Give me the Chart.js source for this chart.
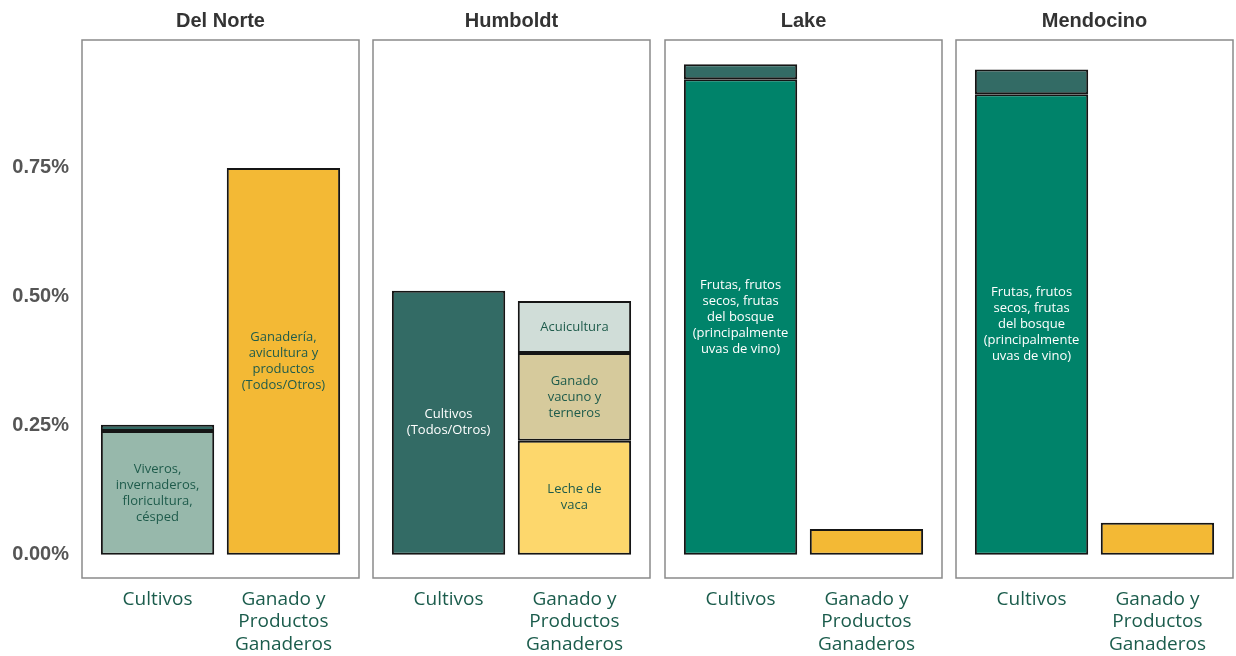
<!DOCTYPE html>
<html>
<head>
<meta charset="utf-8">
<script src="https://cdn.jsdelivr.net/npm/chart.js@4"></script>
<style>
  body { margin: 0; background: #fff; }
  #wrap { position: relative; width: 1236px; height: 656px; }
  #wrap canvas { position: absolute; top: 0; }
</style>
</head>
<body>
<div id="wrap"></div>
<script>
// --- data ---
const counties = ["Del Norte", "Humboldt", "Lake", "Mendocino"];
const categories = [["Cultivos"], ["Ganado y", "Productos", "Ganaderos"]];
const yTicks = [0, 0.25, 0.5, 0.75];

// segment types, bottom to top in each stack
const segmentNames = [
  ["Viveros,", "invernaderos,", "floricultura,", "césped"],
  ["Frutas, frutos", "secos, frutas", "del bosque", "(principalmente", "uvas de vino)"],
  ["Cultivos", "(Todos/Otros)"],
  ["Ganadería,", "avicultura y", "productos", "(Todos/Otros)"],
  ["Leche de", "vaca"],
  ["Ganado", "vacuno y", "terneros"],
  ["Acuicultura"]
];
const segmentCategory = [1, 1, 1, 2, 2, 2, 2];
const segmentColors = ["#97b8ab", "#00836a", "#336b65", "#f3b935", "#fdd76c", "#d6ca9c", "#d0ddd8"];
const segmentTextColors = ["#1e5b4b", "#ffffff", "#ffffff", "#1e5b4b", "#1e5b4b", "#1e5b4b", "#1e5b4b"];

// percent of value, per segment type
const delNorte  = [0.240, null, 0.012, 0.750, null,  null,  null];
const humboldt  = [null,  null, 0.512, null,  0.221, 0.170, 0.101];
const lake      = [null,  0.922, 0.029, 0.050, null, null,  null];
const mendocino = [null,  0.893, 0.048, 0.062, null, null,  null];
const countyValues = [delNorte, humboldt, lake, mendocino];

// --- layout ---
const panelLeft = [82, 373, 665, 956];
const panelWidth = 277;
const panelTop = 40, panelBottom = 578;

const panelPlugin = {
  id: "panel",
  afterDraw(chart, args, opts) {
    const ctx = chart.ctx, a = chart.chartArea;
    ctx.save();
    ctx.strokeStyle = "#8a8a8a";
    ctx.lineWidth = 1.5;
    ctx.strokeRect(a.left, a.top, a.right - a.left, a.bottom - a.top);
    ctx.fillStyle = "#333";
    ctx.font = "bold 20px 'Liberation Sans', Arial, sans-serif";
    ctx.textAlign = "center";
    ctx.textBaseline = "middle";
    ctx.fillText(opts.title, (a.left + a.right) / 2, 21);

    // labels inside the segments (only the big ones)
    ctx.font = "13px 'Open Sans', sans-serif";
    chart.data.datasets.forEach((ds, di) => {
      const meta = chart.getDatasetMeta(di);
      meta.data.forEach((bar, i) => {
        if (ds.data[i].y == null) return;
        const h = Math.abs(bar.base - bar.y);
        if (h < 45) return;
        const lines = segmentNames[di];
        const lh = 16;
        const cy = (bar.base + bar.y) / 2 - (lines.length - 1) * lh / 2;
        ctx.fillStyle = segmentTextColors[di];
        lines.forEach((t, k) => ctx.fillText(t, bar.x, cy + k * lh));
      });
    });
    ctx.restore();
  }
};

function makeChart(p) {
  const first = p === 0;
  const padL = first ? 0 : 7, padR = 7;
  const left = first ? 0 : panelLeft[p] - padL;
  const width = first ? panelLeft[0] + panelWidth + padR : panelWidth + padL + padR;

  const canvas = document.createElement("canvas");
  canvas.style.left = left + "px";
  canvas.style.width = width + "px";
  canvas.style.height = "656px";
  canvas.width = width;
  canvas.height = 656;
  document.getElementById("wrap").appendChild(canvas);

  const values = countyValues[p];
  const datasets = segmentNames.map((name, s) => ({
    label: name.join(" "),
    data: [1, 2].map(x => ({ x: x, y: segmentCategory[s] === x ? values[s] : null })),
    backgroundColor: segmentColors[s],
    borderColor: "#151515",
    borderWidth: 2,
    borderSkipped: false,
    barPercentage: 0.9,
    categoryPercentage: 1
  }));

  new Chart(canvas, {
    type: "bar",
    data: { datasets: datasets },
    plugins: [panelPlugin],
    options: {
      responsive: false,
      animation: false,
      layout: { padding: { left: padL, right: padR, top: panelTop, bottom: 0 } },
      plugins: {
        legend: { display: false },
        tooltip: { enabled: false },
        panel: { title: counties[p] }
      },
      scales: {
        x: {
          type: "linear",
          min: 0.4,
          max: 2.6,
          offset: false,
          stacked: true,
          grid: { display: false },
          border: { display: false },
          afterBuildTicks: s => { s.ticks = [{ value: 1 }, { value: 2 }]; },
          afterFit: s => { s.height = 656 - panelBottom; },
          ticks: {
            padding: 3,
            maxRotation: 0,
            color: "#1b5c4c",
            font: { family: "'Open Sans', sans-serif", size: 19, lineHeight: 1.16 },
            callback: v => categories[v - 1]
          }
        },
        y: {
          display: first,
          min: -0.045,
          max: 0.998,
          stacked: true,
          grid: { display: false },
          border: { display: false },
          afterBuildTicks: s => { s.ticks = yTicks.map(v => ({ value: v })); },
          afterFit: s => { if (first) s.width = panelLeft[0]; },
          ticks: {
            padding: 5,
            color: "#555",
            font: { family: "'Liberation Sans', Arial, sans-serif", size: 20, weight: "bold" },
            callback: v => v.toFixed(2) + "%"
          }
        }
      }
    }
  });
}

counties.forEach((c, p) => makeChart(p));
</script>
</body>
</html>
